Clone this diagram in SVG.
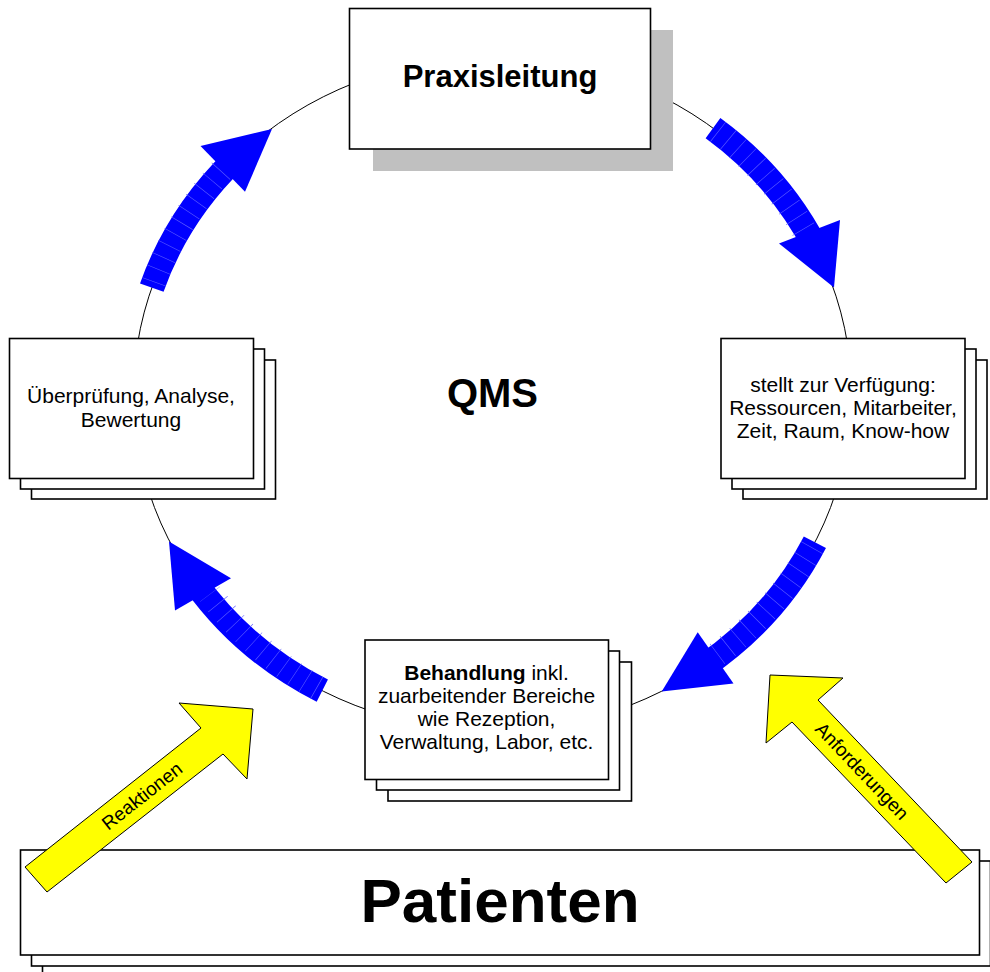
<svg xmlns="http://www.w3.org/2000/svg" width="990" height="972" viewBox="0 0 990 972">
<style>
.box{fill:#fff;stroke:#000;stroke-width:1.6}
.t{font-family:"Liberation Sans",Arial,sans-serif;font-size:21px;fill:#000;text-anchor:middle}
.b{font-family:"Liberation Sans",Arial,sans-serif;font-weight:bold;fill:#000;text-anchor:middle}
.band{fill:none;stroke:#0000ff;stroke-width:25}
.ticks{fill:none;stroke:#5c5cff;stroke-width:25;stroke-dasharray:0.6 12.4;stroke-dashoffset:-6}
.head{fill:#0000ff}
.ya{fill:#ffff00;stroke:#000;stroke-width:1}
.yt{font-family:"Liberation Sans",Arial,sans-serif;font-size:19px;fill:#000;text-anchor:middle;dominant-baseline:central}
</style>
<rect width="990" height="972" fill="#fff"/>
<ellipse cx="492.5" cy="394" rx="359" ry="337" fill="none" stroke="#000" stroke-width="1"/>

<g id="praxisleitung">
<rect x="373" y="30" width="300" height="141" fill="#c0c0c0"/>
<rect class="box" x="349.5" y="8.5" width="301" height="140.5"/>
<text class="b" x="500" y="87" font-size="31">Praxisleitung</text>
</g>

<g id="ueberpruefung">
<rect class="box" x="31.5" y="360" width="244" height="139"/>
<rect class="box" x="20.5" y="349" width="244" height="140"/>
<rect class="box" x="9.5" y="338.5" width="244" height="140"/>
<text class="t" x="131" y="403">Überprüfung, Analyse,</text>
<text class="t" x="131" y="427">Bewertung</text>
</g>

<g id="verfuegung">
<rect class="box" x="743" y="360" width="244" height="139"/>
<rect class="box" x="732" y="349" width="244" height="140"/>
<rect class="box" x="721" y="338.5" width="244" height="140"/>
<text class="t" x="843" y="392">stellt zur Verfügung:</text>
<text class="t" x="843" y="415">Ressourcen, Mitarbeiter,</text>
<text class="t" x="843" y="438">Zeit, Raum, Know-how</text>
</g>

<g id="behandlung">
<rect class="box" x="388" y="662" width="243.5" height="139"/>
<rect class="box" x="376.5" y="651" width="243" height="139"/>
<rect class="box" x="365" y="640" width="243.5" height="139.5"/>
<text class="t" x="486.5" y="680"><tspan font-weight="bold">Behandlung</tspan> inkl.</text>
<text class="t" x="486.5" y="703">zuarbeitender Bereiche</text>
<text class="t" x="486.5" y="726">wie Rezeption,</text>
<text class="t" x="486.5" y="749">Verwaltung, Labor, etc.</text>
</g>

<g id="qms">
<text class="b" x="492.5" y="407" font-size="40">QMS</text>
</g>

<g id="patienten">
<rect class="box" x="42.5" y="872" width="960" height="105"/>
<rect class="box" x="31.5" y="861" width="959" height="105"/>
<rect class="box" x="20.5" y="850" width="959" height="105"/>
<text class="b" x="500" y="922" font-size="62">Patienten</text>
</g>

<g id="connectors">
<g id="arrow-top-right">
<path class="band" d="M713.0 128.1 A359 337 0 0 1 815.2 246.3"/>
<path class="ticks" d="M713.0 128.1 A359 337 0 0 1 805 232"/>
<polygon class="head" points="840,220 834,287.5 779,243.5"/>
</g>
<g id="arrow-bottom-right">
<path class="band" d="M814.9 542.2 A359 337 0 0 1 703.5 666.6"/>
<path class="ticks" d="M814.9 542.2 A359 337 0 0 1 716 655"/>
<polygon class="head" points="697.7,632.3 661.7,691.5 733.5,683.5"/>
</g>
<g id="arrow-bottom-left">
<path class="band" d="M322.3 690.7 A359 337 0 0 1 194.9 582.4"/>
<path class="ticks" d="M322.3 690.7 A359 337 0 0 1 210 594"/>
<polygon class="head" points="231,578.3 169,541.5 175,610.5"/>
</g>
<g id="arrow-top-left">
<path class="band" d="M151.8 287.6 A359 337 0 0 1 234.3 159.9"/>
<path class="ticks" d="M151.8 287.6 A359 337 0 0 1 222 170"/>
<polygon class="head" points="200.5,146 272,129 245,191.7"/>
</g>
<g id="arrow-reaktionen">
<polygon class="ya" points="25,867 201,728 179,703 253,709 247,779 223,754 47,892"/>
<text class="yt" transform="translate(142,796) rotate(-38.3)">Reaktionen</text>
</g>
<g id="arrow-anforderungen">
<polygon class="ya" points="770,675 843,678 818,700 972,862 946,883 792,722 766,743"/>
<text class="yt" transform="translate(862,771) rotate(46.5)">Anforderungen</text>
</g>
</g>
</svg>
